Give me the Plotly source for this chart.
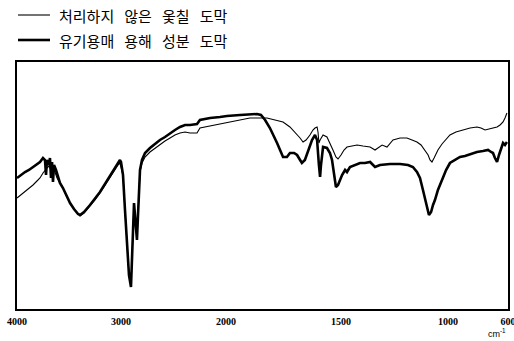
import numpy as np
import plotly.graph_objects as go

# Tick wavenumbers of the (piecewise, IR-spectrometer style) x scale and their relative positions
TICK_WN = [4000, 3000, 2000, 1500, 1000, 600]
TICK_POS = [0, 104, 209, 324, 431, 491]

# Untreated lacquer film (thin line): wavenumber (cm-1), transmittance (arbitrary units)
WN_UNTREATED = [4000, 3962, 3923, 3885, 3846, 3808, 3779, 3750, 3731, 3712, 3692, 3673, 3654, 3635, 3615,
                3587, 3558, 3529, 3490, 3452, 3413, 3394, 3356, 3298, 3250, 3202, 3154, 3106, 3058, 3029,
                3010, 3000, 2981, 2962, 2943, 2924, 2905, 2895, 2886, 2876, 2867, 2857, 2848, 2838, 2829,
                2819, 2800, 2771, 2724, 2676, 2629, 2581, 2533, 2486, 2438, 2390, 2343, 2276, 2248, 2152,
                2057, 1996, 1939, 1896, 1852, 1822, 1787, 1752, 1722, 1700, 1678, 1665, 1652, 1635, 1622,
                1613, 1604, 1600, 1596, 1591, 1578, 1561, 1548, 1535, 1522, 1513, 1500, 1486, 1472, 1449,
                1425, 1397, 1364, 1341, 1327, 1308, 1285, 1271, 1257, 1224, 1192, 1168, 1145, 1126, 1108,
                1093, 1084, 1075, 1065, 1056, 1047, 1028, 1009, 987, 947, 900, 853, 807, 780, 753,
                720, 673, 653, 633, 620, 607]
T_UNTREATED = [111, 114, 117, 120, 124, 128, 131, 136, 139, 141, 143, 139, 141, 137, 131,
               126, 121, 114, 106, 100, 95, 93, 96, 103, 109, 116, 124, 132, 140, 144,
               146, 142, 134, 99, 59, 34, 22, 49, 89, 105, 94, 74, 69, 94, 124,
               137, 146, 152, 157, 161, 164, 168, 171, 174, 176, 177, 176, 176, 181, 183,
               185, 187, 189, 191, 191, 191, 189, 187, 182, 177, 171, 167, 169, 174, 179,
               181, 182, 177, 166, 169, 174, 172, 166, 159, 152, 150, 154, 159, 162, 163,
               164, 163, 162, 159, 161, 164, 162, 166, 169, 171, 171, 169, 167, 164, 159,
               154, 149, 147, 151, 155, 159, 165, 170, 174, 177, 179, 181, 182, 181, 179,
               180, 182, 184, 187, 191, 196]

# Organic-solvent soluble component film (thick line)
WN_SOLUBLE = [4000, 3962, 3923, 3885, 3846, 3808, 3779, 3750, 3731, 3721, 3712, 3692, 3683, 3673, 3663,
              3654, 3644, 3625, 3606, 3587, 3558, 3529, 3490, 3452, 3413, 3394, 3356, 3298, 3250, 3202,
              3154, 3106, 3058, 3029, 3010, 3000, 2981, 2962, 2943, 2924, 2905, 2895, 2886, 2876, 2867,
              2857, 2848, 2838, 2829, 2819, 2800, 2771, 2724, 2676, 2629, 2581, 2533, 2486, 2438, 2390,
              2343, 2276, 2248, 2152, 2057, 1996, 1939, 1896, 1865, 1848, 1830, 1809, 1791, 1778, 1765,
              1752, 1735, 1722, 1704, 1691, 1678, 1670, 1657, 1643, 1626, 1613, 1604, 1596, 1591, 1587,
              1578, 1561, 1548, 1539, 1530, 1522, 1513, 1504, 1495, 1481, 1472, 1458, 1435, 1411, 1388,
              1364, 1341, 1318, 1271, 1224, 1187, 1164, 1145, 1131, 1117, 1108, 1098, 1089, 1079, 1070,
              1061, 1047, 1028, 1009, 987, 953, 920, 887, 853, 807, 767, 733, 713, 700, 687,
              673, 660, 647, 633, 620, 607]
T_SOLUBLE = [131, 134, 137, 139, 142, 145, 147, 151, 149, 134, 149, 144, 151, 131, 147,
             127, 144, 139, 131, 126, 121, 114, 106, 100, 95, 94, 97, 104, 110, 117,
             125, 133, 141, 146, 149, 147, 134, 99, 59, 34, 22, 49, 89, 106, 94,
             74, 69, 94, 124, 139, 149, 156, 161, 165, 169, 172, 176, 179, 182, 184,
             184, 185, 189, 191, 192, 193, 194, 195, 195, 194, 189, 181, 173, 166, 159,
             152, 152, 156, 156, 154, 149, 146, 149, 159, 169, 174, 169, 144, 132, 144,
             162, 161, 156, 149, 134, 122, 124, 129, 134, 139, 137, 142, 144, 146, 146,
             147, 142, 144, 145, 145, 144, 142, 137, 131, 119, 112, 102, 94, 97, 104,
             109, 119, 129, 139, 146, 149, 152, 153, 155, 157, 158, 159, 157, 156, 151,
             147, 154, 159, 166, 164, 167]

GAP = " \u00a0\u00a0"
LABEL_UNTREATED = GAP.join(["처리하지", "않은", "옻칠", "도막"])
LABEL_SOLUBLE = GAP.join(["유기용매", "용해", "성분", "도막"])

W, H = 514, 341
L, R, T, B = 17, 6, 62, 32
PW, PH = W - L - R, H - T - B


def to_axis(wn):
    wn = np.asarray(wn, dtype=float)
    return np.interp(-wn, -np.array(TICK_WN, dtype=float), TICK_POS)


def px(x):  # pixel x -> paper
    return (x - L) / PW


def py(y):  # pixel y -> paper
    return (H - B - y) / PH


fig = go.Figure()
series = [
    (WN_UNTREATED, T_UNTREATED, LABEL_UNTREATED, 1.1, 15),
    (WN_SOLUBLE, T_SOLUBLE, LABEL_SOLUBLE, 2.6, 40),
]
for wn, t, label, lw, ly in series:
    fig.add_trace(go.Scatter(x=to_axis(wn), y=t, mode="lines",
                             line=dict(color="black", width=lw), name=label, showlegend=False))
    # hand-drawn legend entry
    fig.add_shape(type="line", xref="paper", yref="paper", x0=px(18), x1=px(50), y0=py(ly), y1=py(ly),
                  line=dict(color="black", width=lw))
    fig.add_annotation(x=px(57), y=py(ly), xref="paper", yref="paper", text=label, showarrow=False,
                       xanchor="left", yanchor="middle",
                       font=dict(family="Noto Sans CJK KR", size=15, color="black"))

fig.update_layout(
    width=W, height=H,
    margin=dict(l=L, r=R, t=T, b=B),
    paper_bgcolor="white", plot_bgcolor="white",
    showlegend=False,
    font=dict(family="Liberation Sans", color="black"),
)
fig.update_xaxes(range=[0, 491], tickmode="array", tickvals=to_axis(TICK_WN),
                 ticktext=[f"<b>{t}</b>" for t in TICK_WN], ticks="", showgrid=False,
                 zeroline=False, showline=True, linecolor="black", linewidth=1.6, mirror=True,
                 tickfont=dict(size=10, family="Liberation Sans Narrow", color="black"),
                 ticklabelstandoff=2, ticklabeloverflow="allow", automargin=False)
fig.update_yaxes(range=[0, 247], showticklabels=False, ticks="", showgrid=False, zeroline=False,
                 showline=True, linecolor="black", linewidth=1.6, mirror=True, automargin=False)
fig.add_annotation(x=px(497), y=py(333), xref="paper", yref="paper",
                   text="cm<sup>-1</sup>", showarrow=False, xanchor="center", yanchor="middle",
                   font=dict(size=9, family="Liberation Sans", color="black"))
fig.write_html("out.html", config={"displayModeBar": False},
               post_script="document.body.style.margin='0';document.body.style.overflow='hidden';")
